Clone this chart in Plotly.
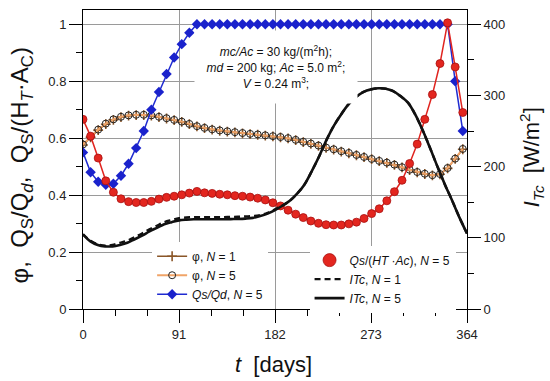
import plotly.graph_objects as go

# ---------------- data ----------------
days = [0, 7.2, 14.4, 21.6, 28.8, 36, 43.2, 50.4, 57.6, 64.8, 72, 79.2, 86.4, 93.6, 100.8,
        108, 115.2, 122.4, 129.6, 136.8, 144, 151.2, 158.4, 165.6, 172.8, 180, 187.2, 194.4,
        201.6, 208.8, 216, 223.2, 230.4, 237.6, 244.8, 252, 259.2, 266.4, 273.6, 280.8, 288,
        295.2, 302.4, 309.6, 316.8, 324, 331.2, 338.4, 345.6, 352.8, 360]

phi_n1 = [0.576, 0.603, 0.628, 0.649, 0.664, 0.674, 0.679, 0.681, 0.681, 0.679, 0.674, 0.669,
          0.663, 0.657, 0.649, 0.641, 0.635, 0.630, 0.626, 0.623, 0.620, 0.617, 0.614, 0.612,
          0.609, 0.606, 0.603, 0.599, 0.593, 0.586, 0.580, 0.573, 0.566, 0.560, 0.553, 0.547,
          0.540, 0.533, 0.526, 0.519, 0.513, 0.506, 0.497, 0.488, 0.480, 0.474, 0.469, 0.473,
          0.494, 0.527, 0.561]

phi_n5 = [0.578, 0.605, 0.630, 0.651, 0.666, 0.675, 0.680, 0.682, 0.682, 0.680, 0.675, 0.670,
          0.664, 0.658, 0.650, 0.642, 0.636, 0.631, 0.627, 0.624, 0.621, 0.618, 0.615, 0.613,
          0.610, 0.607, 0.604, 0.600, 0.594, 0.587, 0.581, 0.574, 0.567, 0.561, 0.554, 0.548,
          0.541, 0.534, 0.527, 0.520, 0.514, 0.507, 0.498, 0.489, 0.481, 0.475, 0.470, 0.474,
          0.495, 0.528, 0.562]

qs_qd = [0.550, 0.480, 0.447, 0.436, 0.440, 0.468, 0.510, 0.565, 0.625, 0.700, 0.762, 0.825,
         0.883, 0.930, 0.970, 1.0, 1.0, 1.0, 1.0, 1.0, 1.0, 1.0, 1.0, 1.0, 1.0, 1.0, 1.0, 1.0,
         1.0, 1.0, 1.0, 1.0, 1.0, 1.0, 1.0, 1.0, 1.0, 1.0, 1.0, 1.0, 1.0, 1.0, 1.0, 1.0, 1.0,
         1.0, 1.0, 1.0, 1.0, 0.800, 0.625]

qs_htac = [0.666, 0.607, 0.530, 0.450, 0.410, 0.387, 0.377, 0.374, 0.374, 0.378, 0.386, 0.392,
           0.396, 0.401, 0.407, 0.413, 0.408, 0.406, 0.403, 0.401, 0.398, 0.396, 0.393, 0.389,
           0.383, 0.373, 0.362, 0.347, 0.333, 0.321, 0.309, 0.301, 0.296, 0.295, 0.295, 0.299,
           0.305, 0.318, 0.335, 0.352, 0.380, 0.412, 0.452, 0.511, 0.579, 0.666, 0.753, 0.862,
           1.005, 0.850, 0.690]

days_itc = [0, 7, 14, 21, 28, 35, 42, 49, 56, 63, 70, 77, 84, 91, 98, 105, 112, 119, 126, 133,
            140, 147, 154, 161, 168, 175, 182, 189, 196, 203, 210, 217, 224, 231, 238, 245, 252,
            259, 266, 273, 280, 287, 294, 301, 308, 315, 322, 329, 336, 343, 350, 357, 364]

itc_n1 = [105, 96, 91, 89, 90, 93, 96, 101, 106, 112, 117, 122, 125, 127.5, 128.5, 129, 129,
          129, 129, 129, 129.3, 129.5, 130, 130.5, 132, 135, 140, 145.5, 152, 162, 175, 194,
          215, 238, 258, 274, 288, 298, 305, 308.5, 310, 309.5, 306, 299, 290, 273, 251, 226,
          200, 175, 152, 128, 106]

itc_n5 = [105, 95, 90, 88, 88, 90, 93, 98, 103, 109, 114, 119, 122, 124.5, 125.5, 126, 126,
          126, 126, 126, 126.3, 126.5, 127, 128, 130.5, 134, 139, 145, 152, 162, 175, 194,
          215, 238, 258, 274, 288, 298, 305, 308.5, 310, 309.5, 306, 299, 290, 273, 251, 226,
          200, 175, 152, 128, 106]

x_ticks = [0, 91, 182, 273, 364]

FONT = "Arial, Liberation Sans, sans-serif"

# ---------------- figure ----------------
fig = go.Figure()

fig.add_trace(go.Scatter(
    x=days, y=phi_n1, mode="lines+markers", name="φ, <i>N</i> = 1",
    line=dict(color="#8a5628", width=1.5),
    marker=dict(symbol="cross-thin-open", size=7, line=dict(color="#3b2210", width=1.6)),
    legend="legend"))

fig.add_trace(go.Scatter(
    x=days, y=phi_n5, mode="lines+markers", name="φ, <i>N</i> = 5",
    line=dict(color="#f0a468", width=2),
    marker=dict(symbol="circle-open", size=7, color="#222222", line=dict(width=1)),
    legend="legend"))

fig.add_trace(go.Scatter(
    x=days, y=qs_qd, mode="lines+markers", name="<i>Qs/Qd</i>, <i>N</i> = 5",
    line=dict(color="#1f2bd1", width=1.5),
    marker=dict(symbol="diamond", size=8, color="#1a22cc"),
    legend="legend"))

fig.add_trace(go.Scatter(
    x=days, y=qs_htac, mode="lines+markers", showlegend=False,
    line=dict(color="#e0241f", width=1.5),
    marker=dict(symbol="circle", size=8, color="#e3261f", line=dict(color="#a81010", width=0.8))))

# legend entry for the red series (marker only, larger, as in the reference legend)
fig.add_trace(go.Scatter(
    x=[None], y=[None], mode="markers", name="<i>Qs</i>/(<i>HT</i> ·<i>Ac</i>), <i>N</i> = 5",
    marker=dict(symbol="circle", size=13, color="#e3261f", line=dict(color="#a81010", width=0.8)),
    legend="legend2"))

fig.add_trace(go.Scatter(
    x=days_itc, y=itc_n1, mode="lines", name="<i>ITc</i>, <i>N</i> = 1", yaxis="y2",
    line=dict(color="#111111", width=2.4, dash="6px,4px", shape="spline"),
    legend="legend2"))

fig.add_trace(go.Scatter(
    x=days_itc, y=itc_n5, mode="lines", name="<i>ITc</i>, <i>N</i> = 5", yaxis="y2",
    line=dict(color="#111111", width=2.6, shape="spline"),
    legend="legend2"))

axis_common = dict(showline=True, linecolor="black", linewidth=1, ticks="outside",
                   ticklen=13, tickwidth=1, tickcolor="black", zeroline=False,
                   tickfont=dict(family=FONT, size=13, color="#222222"))

fig.update_layout(
    width=550, height=381, autosize=False,
    margin=dict(l=83, r=83, t=10, b=72),
    plot_bgcolor="white", paper_bgcolor="white",
    font=dict(family=FONT, color="#111111"),
    xaxis=dict(range=[0, 364], tickvals=x_ticks, mirror=True, showgrid=True,
               gridcolor="#9a9a9a", gridwidth=1,
               minor=dict(dtick=91 / 3, tick0=0, ticks="outside", ticklen=6,
                          tickcolor="black", showgrid=False),
               **axis_common),
    yaxis=dict(range=[0, 1.05], dtick=0.2, tick0=0, showgrid=True, gridcolor="#9a9a9a",
               gridwidth=1,
               minor=dict(dtick=0.1, tick0=0, ticks="outside", ticklen=6,
                          tickcolor="black", showgrid=False),
               **axis_common),
    yaxis2=dict(range=[0, 420], dtick=100, tick0=0, overlaying="y", side="right",
                showgrid=False,
                minor=dict(dtick=50, tick0=0, ticks="outside", ticklen=6,
                           tickcolor="black", showgrid=False),
                **axis_common),
    legend=dict(x=0.18, y=0.225, xanchor="left", yanchor="top", bgcolor="white",
                font=dict(family=FONT, size=12, color="#111111"), tracegroupgap=0),
    legend2=dict(x=0.59, y=0.212, xanchor="left", yanchor="top", bgcolor="white",
                 font=dict(family=FONT, size=12, color="#111111"), tracegroupgap=0),
    showlegend=True,
)

# parameter box
fig.add_annotation(
    xref="paper", yref="paper", x=0.503, y=0.809, xanchor="center", yanchor="middle",
    text="<i>mc/Ac</i> = 30 kg/(m<sup>2</sup>h);<br><i>md</i> = 200 kg; <i>Ac</i> = 5.0 m<sup>2</sup>;"
         "<br><i>V</i> = 0.24 m<sup>3</sup>;",
    showarrow=False, bgcolor="white", width=160, height=70, borderpad=1, valign="middle",
    font=dict(family=FONT, size=12, color="#111111"))

# axis titles
fig.add_annotation(
    xref="paper", yref="paper", x=-0.159, y=0.48, xanchor="center", yanchor="middle",
    textangle=-90, showarrow=False,
    text="φ,&nbsp; Q<sub>S</sub>/Q<sub><i>d</i></sub>,&nbsp; Q<sub>S</sub>/(H<sub><i>T</i></sub>·A<sub>C</sub>)",
    font=dict(family=FONT, size=24, color="#111111"))

fig.add_annotation(
    xref="paper", yref="paper", x=1.167, y=0.508, xanchor="center", yanchor="middle",
    textangle=-90, showarrow=False,
    text="<i>I</i><sub><i>Tc</i></sub>&nbsp; [W/m<sup>2</sup>]",
    font=dict(family=FONT, size=22, color="#111111"))

fig.add_annotation(
    xref="paper", yref="paper", x=0.497, y=-0.184, xanchor="center", yanchor="middle",
    showarrow=False, text="<i>t</i>&nbsp; [days]",
    font=dict(family=FONT, size=22, color="#111111"))

fig.write_html("out.html", config={"displayModeBar": False},
               post_script="document.body.style.margin='0';document.body.style.overflow='hidden';")
